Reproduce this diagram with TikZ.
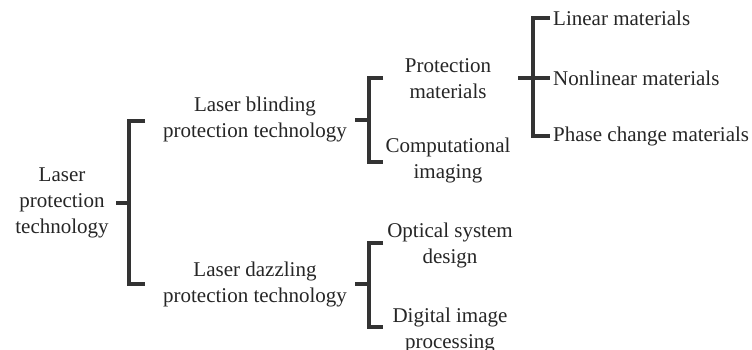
\documentclass[tikz,border=0pt]{standalone}
\usepackage{fontspec}
\setmainfont{Liberation Serif}
\begin{document}
\begin{tikzpicture}[x=1pt,y=-1pt,
  lbl/.style={align=center,font=\fontsize{21}{26}\selectfont,text=black!85,inner sep=0pt},
  leaf/.style={lbl,anchor=west},
  br/.style={line width=3.2pt,draw=black!80}]
\useasboundingbox[fill=white] (0,0) rectangle (752,350);
% texts
\node[lbl] (root) at (62,203) {Laser\\protection\\technology};
\node[lbl] (blind) at (255,119) {Laser blinding\\protection technology};
\node[lbl] (dazz) at (255,284) {Laser dazzling\\protection technology};
\node[lbl] (pmat) at (448,79) {Protection\\materials};
\node[lbl] (comp) at (448,160) {Computational\\imaging};
\node[lbl] (opt) at (450,245) {Optical system\\design};
\node[lbl] (dig) at (450,330) {Digital image\\processing};
\node[leaf] (lin) at (553,18) {Linear materials};
\node[leaf] (nonlin) at (553,78) {Nonlinear materials};
\node[leaf] (phase) at (553,136) {Phase change materials};
% root bracket
\coordinate (rS) at (116,203); \coordinate (rJ) at (129,203);
\coordinate (rT) at (145,121); \coordinate (rB) at (145,284);
\draw[br] (rS) -- (rJ);
\draw[br] (rT) -- (rT -| rJ) -- (rB -| rJ) -- (rB);
% blinding bracket
\coordinate (bS) at (355,120); \coordinate (bJ) at (369,120);
\coordinate (bT) at (383,78); \coordinate (bB) at (383,162);
\draw[br] (bS) -- (bJ);
\draw[br] (bT) -- (bT -| bJ) -- (bB -| bJ) -- (bB);
% dazzling bracket
\coordinate (dS) at (355,284); \coordinate (dJ) at (369,284);
\coordinate (dT) at (383,243); \coordinate (dB) at (383,327);
\draw[br] (dS) -- (dJ);
\draw[br] (dT) -- (dT -| dJ) -- (dB -| dJ) -- (dB);
% materials bracket
\coordinate (mS) at (518,78); \coordinate (mJ) at (533,78);
\coordinate (mT) at (550,18); \coordinate (mM) at (550,78); \coordinate (mB) at (550,136);
\draw[br] (mS) -- (mM);
\draw[br] (mT) -- (mT -| mJ) -- (mB -| mJ) -- (mB);
\end{tikzpicture}
\end{document}
